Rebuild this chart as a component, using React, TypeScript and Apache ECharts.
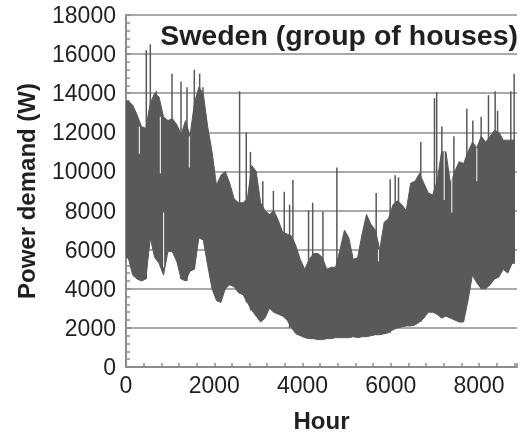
import React, { useEffect, useRef } from "react";
import * as echarts from "echarts";

// Start hour of each 100-hour bin
const BIN_HOURS = [
  0, 100, 200, 300, 400, 500, 600, 700, 800, 900,
  1000, 1100, 1200, 1300, 1400, 1500, 1600, 1700, 1800, 1900,
  2000, 2100, 2200, 2300, 2400, 2500, 2600, 2700, 2800, 2900,
  3000, 3100, 3200, 3300, 3400, 3500, 3600, 3700, 3800, 3900,
  4000, 4100, 4200, 4300, 4400, 4500, 4600, 4700, 4800, 4900,
  5000, 5100, 5200, 5300, 5400, 5500, 5600, 5700, 5800, 5900,
  6000, 6100, 6200, 6300, 6400, 6500, 6600, 6700, 6800, 6900,
  7000, 7100, 7200, 7300, 7400, 7500, 7600, 7700, 7800, 7900,
  8000, 8100, 8200, 8300, 8400, 8500, 8600, 8700,
];
const BIN_WIDTH = 100;

// Lowest demand in each bin (W)
const BIN_LOW = [
  5600, 4700, 4500, 4400, 4500, 6600, 5600, 5300, 4700, 5900,
  5900, 5400, 4500, 4400, 4900, 5000, 6600, 6500, 5200, 4000,
  3400, 3300, 4000, 4200, 4100, 3800, 3700, 3300, 2900, 2600,
  2300, 2500, 3000, 2800, 2700, 2600, 2400, 2000, 1700, 1600,
  1500, 1450, 1450, 1400, 1400, 1450, 1450, 1500, 1500, 1500,
  1500, 1550, 1500, 1550, 1550, 1600, 1650, 1650, 1700, 1750,
  1900, 2000, 2050, 2100, 2100, 2150, 2300, 2500, 2800, 2800,
  2700, 2500, 2600, 2500, 2400, 2300, 2300, 3400, 4700, 4300,
  4000, 4000, 4200, 4500, 4600, 5000, 4800, 5300,
];

// Typical daily peak demand in each bin (W)
const BIN_HIGH = [
  13600, 13400, 12900, 12300, 12200, 13500, 14000, 13800, 12800, 12600,
  12700, 12400, 11900, 12600, 11800, 13500, 14300, 14000, 12300, 11000,
  9300, 9800, 10000, 9400, 8600, 8400, 8400, 8600, 10300, 10000,
  8400, 8000, 7800, 8000, 7500, 6900, 6800, 6700, 6200, 5500,
  5000, 5500, 5800, 5800, 5600, 5000, 5100, 5100, 6000, 7000,
  6600, 5500, 5600, 6800, 7800, 7300, 7000, 6000, 7400, 7600,
  8300, 8500, 8300, 8000, 9400, 9500, 9900, 9400, 8900, 8800,
  9500, 11000, 11000, 9400, 10000, 10500, 10400, 11000, 11500, 11200,
  11800, 11500, 11800, 12100, 12000, 11600, 11600, 11600,
];

// Isolated peak hours and their demand (W)
const SPIKE_HOURS = [
  460, 551, 687, 1042, 1246, 1382, 1548, 1669, 1744, 2574,
  2725, 2820, 3100, 3340, 3586, 3707, 3782, 4137, 4230, 4462,
  4778, 5669, 5986, 6100, 6175, 6680, 6990, 7040, 7157, 7430,
  7723, 7859, 8048, 8214, 8365, 8420, 8720, 8795,
];
const SPIKE_VALUES = [
  16200, 16500, 14100, 15000, 14600, 14300, 15200, 15000, 14300, 14100,
  12000, 11000, 9500, 9000, 8960, 8300, 9560, 8000, 8400, 7950,
  10200, 8900, 9600, 9800, 9700, 11500, 13750, 14060, 12300, 11800,
  13200, 12600, 12800, 13900, 14100, 13100, 14100, 15000,
];

// Visible gaps (hour, upper W, lower W)
const GAP_HOURS = [302, 778, 853, 1435, 5720, 7210, 7383, 7950];
const GAP_TOP = [12300, 12800, 7900, 11800, 6000, 11000, 10000, 11200];
const GAP_BOTTOM = [10900, 9900, 5100, 10200, 5400, 8540, 7900, 9500];

const FONT = '"Liberation Sans", Arial, Helvetica, sans-serif';
const INK = "#231f20";
const FILL = "#59595b";
const AXIS_GRAY = "#8c8c8c";

function lowAt(h: number): number {
  let idx = 0;
  for (let i = 0; i < BIN_HOURS.length; i++) {
    if (BIN_HOURS[i] <= h) idx = i;
  }
  return BIN_LOW[idx];
}

export default function App() {
  const ref = useRef<HTMLDivElement>(null);

  useEffect(() => {
    if (!ref.current) return;
    const chart = echarts.init(ref.current, null, { renderer: "svg" });
    const binData = BIN_HOURS.map((h, i) => [h, BIN_LOW[i], BIN_HIGH[i]]);
    const spikeData = SPIKE_HOURS.map((h, i) => [h, lowAt(h), SPIKE_VALUES[i]]);
    const gapData = GAP_HOURS.map((h, i) => [h, GAP_BOTTOM[i], GAP_TOP[i]]);
    const n = BIN_HOURS.length;
    const endHour = BIN_HOURS[n - 1] + BIN_WIDTH;

    chart.setOption({
      animation: false,
      grid: { left: 126, right: 4, top: 15, bottom: 67, outerBoundsMode: "none", containLabel: false },
      xAxis: {
        type: "value", min: 0, max: 8860, interval: 400,
        axisLine: { show: true, lineStyle: { color: AXIS_GRAY, width: 2 } },
        axisTick: { show: true, inside: true, length: 4, lineStyle: { color: AXIS_GRAY, width: 1.5 } },
        axisLabel: {
          formatter: (v: number) => (v % 2000 === 0 ? String(v) : ""),
          fontSize: 23, color: INK, fontFamily: FONT, margin: 6,
        },
        splitLine: { show: false },
        name: "Hour", nameLocation: "middle", nameGap: 41,
        nameTextStyle: { fontSize: 24, fontWeight: "bold", color: INK, fontFamily: FONT },
      },
      yAxis: {
        type: "value", min: 0, max: 18000, interval: 2000,
        axisLine: { show: true, lineStyle: { color: AXIS_GRAY, width: 2 } },
        axisTick: { show: true, inside: true, length: 5, lineStyle: { color: AXIS_GRAY, width: 1.5 } },
        minorTick: { show: true, splitNumber: 5, length: 4, lineStyle: { color: AXIS_GRAY, width: 1.5 } },
        splitLine: { show: true, lineStyle: { color: AXIS_GRAY, width: 1.5 } },
        axisLabel: { formatter: (v: number) => String(v), fontSize: 23, color: INK, fontFamily: FONT, margin: 10 },
        name: "Power demand (W)", nameLocation: "middle", nameGap: 88,
        nameTextStyle: { fontSize: 24, fontWeight: "bold", color: INK, fontFamily: FONT },
      },
      graphic: [
        {
          type: "text", right: 3, top: 20, z: 100,
          style: { text: "Sweden (group of houses)", font: `bold 28.5px ${FONT}`, fill: INK },
        },
      ],
      series: [
        {
          type: "custom", silent: true, clip: true, data: binData,
          encode: { x: 0, y: [1, 2] },
          renderItem: (p: any, api: any) => {
            if (p.dataIndex !== 0) return null;
            const pts: number[][] = [];
            pts.push(api.coord([BIN_HOURS[0], BIN_HIGH[0]]));
            for (let i = 0; i < n; i++) pts.push(api.coord([BIN_HOURS[i] + BIN_WIDTH / 2, BIN_HIGH[i]]));
            pts.push(api.coord([endHour, BIN_HIGH[n - 1]]));
            pts.push(api.coord([endHour, BIN_LOW[n - 1]]));
            for (let i = n - 1; i >= 0; i--) pts.push(api.coord([BIN_HOURS[i] + BIN_WIDTH / 2, BIN_LOW[i]]));
            pts.push(api.coord([BIN_HOURS[0], BIN_LOW[0]]));
            return { type: "polygon", shape: { points: pts }, style: { fill: FILL, stroke: FILL, lineWidth: 1 } };
          },
        },
        {
          type: "custom", silent: true, clip: true, data: spikeData,
          encode: { x: 0, y: [1, 2] },
          renderItem: (_p: any, api: any) => {
            const h = api.value(0);
            const a = api.coord([h, api.value(1)]);
            const b = api.coord([h, api.value(2)]);
            return { type: "line", shape: { x1: a[0], y1: a[1], x2: b[0], y2: b[1] }, style: { stroke: FILL, lineWidth: 1.5 } };
          },
        },
        {
          type: "custom", silent: true, clip: true, data: gapData,
          encode: { x: 0, y: [1, 2] },
          renderItem: (_p: any, api: any) => {
            const h = api.value(0);
            const a = api.coord([h, api.value(1)]);
            const b = api.coord([h, api.value(2)]);
            return { type: "line", shape: { x1: a[0], y1: a[1], x2: b[0], y2: b[1] }, style: { stroke: "#ffffff", lineWidth: 1 } };
          },
        },
      ],
    });
    return () => chart.dispose();
  }, []);

  return <div ref={ref} style={{ position: "fixed", left: 0, top: 0, width: 521, height: 434 }} />;
}
